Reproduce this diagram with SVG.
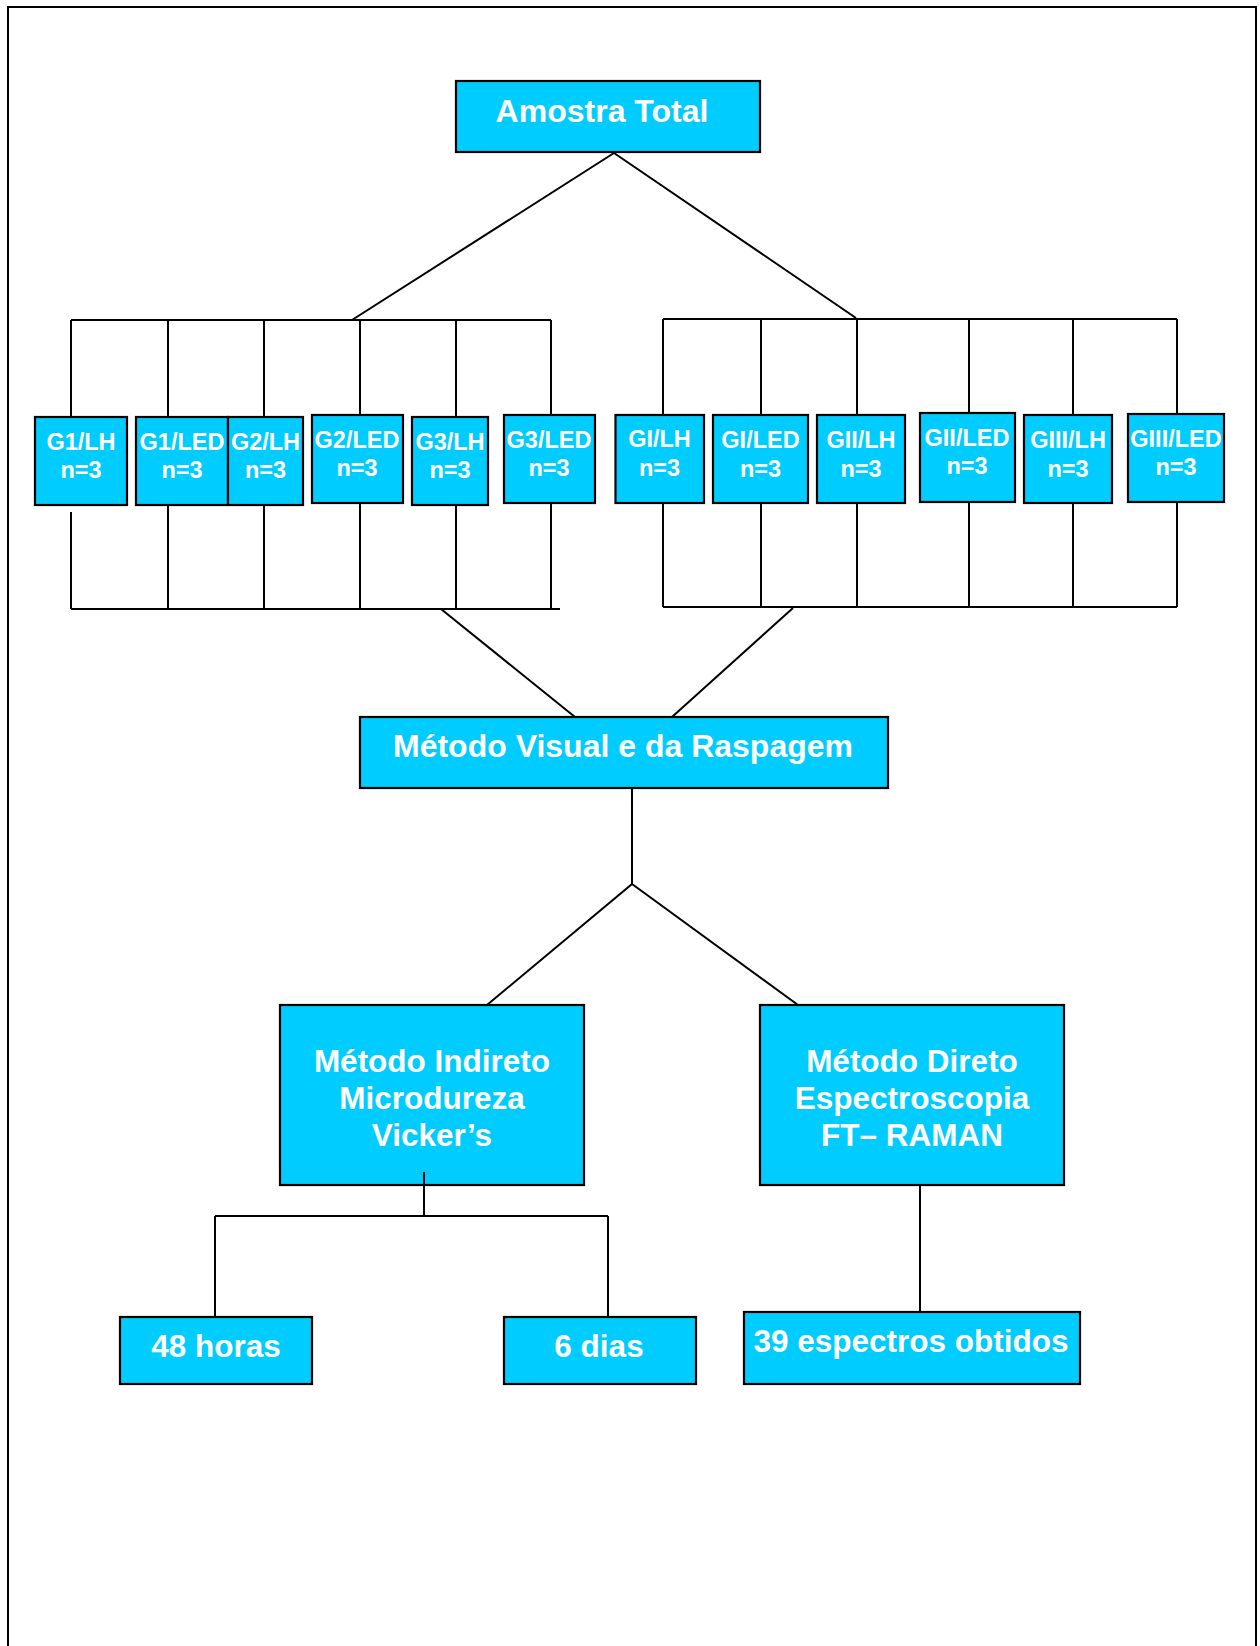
<svg xmlns="http://www.w3.org/2000/svg" width="1260" height="1646" viewBox="0 0 1260 1646">
<style>
.box{fill:#00CCFF;stroke:#000;stroke-width:2.2}
.ln{stroke:#000;stroke-width:2;fill:none}
.t{font-family:"Liberation Sans",Arial,sans-serif;font-weight:bold;fill:#fff;text-anchor:middle}
.s{font-size:23.5px}
.m{font-size:31.5px}
</style>
<rect width="1260" height="1646" fill="#fff"/>
<path class="ln" d="M8,1646 V7 H1256 V1646"/>
<g id="connectors">
<path class="ln" d="M614,153 L352,320 M614,153 L856,318"/>
<path class="ln" d="M71,320 H551 M71,320 V417 M168,320 V417 M264,320 V417 M360,320 V415 M456,320 V417 M551,320 V415"/>
<path class="ln" d="M71,512 V609 M168,505 V609 M264,505 V609 M360,503 V609 M456,505 V609 M551,503 V609 M71,609 H560"/>
<path class="ln" d="M663,319 H1177 M663,319 V415 M761,319 V415 M857,319 V415 M969,319 V413 M1073,319 V415 M1177,319 V414"/>
<path class="ln" d="M663,503 V607 M761,503 V607 M857,503 V607 M969,502 V607 M1073,503 V607 M1177,502 V607 M663,607 H1177"/>
<path class="ln" d="M441,609 L575,717 M793,608 L672,717"/>
<path class="ln" d="M632,788 V884 L487,1005 M632,884 L798,1005"/>
<path class="ln" d="M920,1184 V1312"/>
<path class="ln" d="M215,1216 H608 M215,1216 V1318 M608,1216 V1318"/>
</g>
<g id="amostra"><rect class="box" x="456" y="81" width="304" height="71"/><text class="t" x="602" y="122" font-size="32">Amostra Total</text></g>
<g id="g1lh"><rect class="box" x="35" y="417" width="92" height="88"/><text class="t s" x="81" y="450">G1/LH</text><text class="t s" x="81" y="478">n=3</text></g>
<g id="g1led"><rect class="box" x="136" y="417" width="92" height="88"/><text class="t s" x="182" y="450">G1/LED</text><text class="t s" x="182" y="478">n=3</text></g>
<g id="g2lh"><rect class="box" x="228" y="417" width="75" height="88"/><text class="t s" x="265.5" y="450">G2/LH</text><text class="t s" x="265.5" y="478">n=3</text></g>
<g id="g2led"><rect class="box" x="312" y="415" width="91" height="88"/><text class="t s" x="357" y="448">G2/LED</text><text class="t s" x="357" y="476">n=3</text></g>
<g id="g3lh"><rect class="box" x="412" y="417" width="76" height="88"/><text class="t s" x="450" y="450">G3/LH</text><text class="t s" x="450" y="478">n=3</text></g>
<g id="g3led"><rect class="box" x="504" y="415" width="91" height="88"/><text class="t s" x="549" y="448">G3/LED</text><text class="t s" x="549" y="476">n=3</text></g>
<g id="gilh"><rect class="box" x="615.5" y="415" width="88.5" height="88"/><text class="t s" x="659.5" y="447">GI/LH</text><text class="t s" x="659.5" y="476">n=3</text></g>
<g id="giled"><rect class="box" x="713" y="415" width="95" height="88"/><text class="t s" x="760.5" y="448">GI/LED</text><text class="t s" x="760.5" y="477">n=3</text></g>
<g id="giilh"><rect class="box" x="817" y="415" width="88" height="88"/><text class="t s" x="861" y="448">GII/LH</text><text class="t s" x="861" y="477">n=3</text></g>
<g id="giiled"><rect class="box" x="920" y="413" width="95" height="89"/><text class="t s" x="967" y="446">GII/LED</text><text class="t s" x="967" y="474">n=3</text></g>
<g id="giiilh"><rect class="box" x="1024" y="415" width="88" height="88"/><text class="t s" x="1068" y="448">GIII/LH</text><text class="t s" x="1068" y="477">n=3</text></g>
<g id="giiiled"><rect class="box" x="1128" y="414" width="96" height="88"/><text class="t s" x="1176" y="447">GIII/LED</text><text class="t s" x="1176" y="475">n=3</text></g>
<g id="visual"><rect class="box" x="360" y="717" width="528" height="71"/><text class="t" x="623" y="757" font-size="32">Método Visual e da Raspagem</text></g>
<g id="indireto"><rect class="box" x="280" y="1005" width="304" height="180"/><text class="t m" x="432" y="1072">Método Indireto</text><text class="t m" x="432" y="1109">Microdureza</text><text class="t m" x="432" y="1146">Vicker’s</text><path class="ln" d="M424,1172 V1217"/></g>
<g id="direto"><rect class="box" x="760" y="1005" width="304" height="180"/><text class="t m" x="912" y="1072">Método Direto</text><text class="t m" x="912" y="1109">Espectroscopia</text><text class="t m" x="912" y="1146">FT– RAMAN</text></g>
<g id="h48"><rect class="box" x="120" y="1317" width="192" height="67"/><text class="t m" x="216" y="1357">48 horas</text></g>
<g id="d6"><rect class="box" x="504" y="1317" width="192" height="67"/><text class="t m" x="599" y="1357">6 dias</text></g>
<g id="esp"><rect class="box" x="744" y="1312" width="336" height="72"/><text class="t m" x="911" y="1352">39 espectros obtidos</text></g>
</svg>
